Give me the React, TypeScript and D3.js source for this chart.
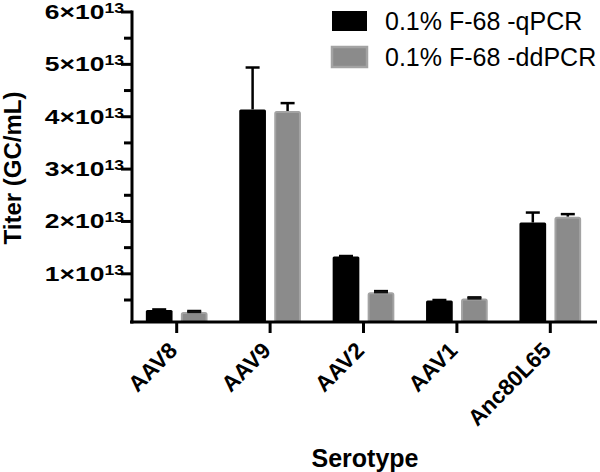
import React from "react";
import * as d3 from "d3";

const categories = ["AAV8", "AAV9", "AAV2", "AAV1", "Anc80L65"];
const seriesNames = ["0.1% F-68 -qPCR", "0.1% F-68 -ddPCR"];
const qpcrMean = [0.31, 4.14, 1.33, 0.49, 1.98];
const qpcrErr = [0.01, 0.8, 0.01, 0.01, 0.19];
const ddpcrMean = [0.27, 4.11, 0.65, 0.53, 2.09];
const ddpcrErr = [0.02, 0.15, 0.02, 0.02, 0.05];
const majorTicks = [1, 2, 3, 4, 5, 6];
const minorTicks = [0.5, 1.5, 2.5, 3.5, 4.5, 5.5];
const tickExponent = "13";

const W = 600;
const H = 472;
const FONT = "'Liberation Sans', Arial, Helvetica, sans-serif";

export default function App() {
  const y = d3.scaleLinear().domain([0.08, 6]).range([322, 12]);
  const x0 = d3.scaleBand<string>().domain(categories).range([130, 597]).paddingInner(0).paddingOuter(0);
  const x1 = d3
    .scaleBand<string>()
    .domain(seriesNames)
    .range([0, x0.bandwidth()])
    .paddingInner(0.237)
    .paddingOuter(0.453);
  const fills = ["#000000", "#8b8b8b"];
  const strokes = ["#000000", "#a3a3a3"];
  const means = [qpcrMean, ddpcrMean];
  const errs = [qpcrErr, ddpcrErr];
  const axisX = 132;
  const baseY = 322;

  return (
    <svg
      width={W}
      height={H}
      style={{ position: "absolute", left: 0, top: 0, background: "#fff" }}
      fontFamily={FONT}
    >
      <rect x={0} y={0} width={W} height={H} fill="#fff" />
      {/* bars */}
      {seriesNames.map((s, si) =>
        categories.map((c, ci) => {
          const bx = (x0(c) ?? 0) + (x1(s) ?? 0);
          const bw = x1.bandwidth();
          const top = y(means[si][ci]);
          const errTop = y(means[si][ci] + errs[si][ci]);
          const cx = bx + bw / 2;
          return (
            <g key={s + c}>
              <line x1={cx} x2={cx} y1={top} y2={errTop} stroke="#000" strokeWidth={2.5} />
              <line x1={cx - 7} x2={cx + 7} y1={errTop} y2={errTop} stroke="#000" strokeWidth={2.5} />
              <rect
                x={bx + (si === 1 ? 1 : 0)}
                y={top + (si === 1 ? 1 : 0)}
                width={bw - (si === 1 ? 2 : 0)}
                height={baseY - top - (si === 1 ? 1 : 0)}
                fill={fills[si]}
                stroke={strokes[si]}
                strokeWidth={si === 1 ? 2 : 0}
                rx={1.5}
              />
              {si === 1 && errs[si][ci] < 0.05 ? (
                <line x1={cx - 7} x2={cx + 7} y1={errTop + 1} y2={errTop + 1} stroke="#111" strokeWidth={2.5} />
              ) : null}
            </g>
          );
        })
      )}
      {/* y axis */}
      <line x1={axisX} x2={axisX} y1={y(6) - 1.5} y2={baseY + 1.5} stroke="#000" strokeWidth={3} />
      {majorTicks.map((t) => (
        <g key={"M" + t}>
          <line x1={axisX - 11} x2={axisX} y1={y(t)} y2={y(t)} stroke="#000" strokeWidth={3} />
          <text
            transform={`translate(124,${y(t) + 7}) scale(1.26,1)`}
            textAnchor="end"
            fontWeight="bold"
            fontSize={21}
            fill="#000"
          >
            <tspan>{t}×10</tspan>
            <tspan fontSize={14} dy={-6}>{tickExponent}</tspan>
          </text>
        </g>
      ))}
      {minorTicks.map((t) => (
        <line key={"m" + t} x1={axisX - 8} x2={axisX} y1={y(t)} y2={y(t)} stroke="#000" strokeWidth={3} />
      ))}
      {/* x axis */}
      <line x1={130} x2={597} y1={baseY} y2={baseY} stroke="#000" strokeWidth={3} />
      {categories.map((c) => {
        const cx = (x0(c) ?? 0) + x0.bandwidth() / 2;
        return (
          <g key={"x" + c}>
            <line x1={cx} x2={cx} y1={baseY} y2={baseY + 11} stroke="#000" strokeWidth={3} />
            <text
              transform={`translate(${cx + 2},${baseY + 30}) rotate(-45)`}
              textAnchor="end"
              fontWeight="bold"
              fontSize={22.5}
              fill="#000"
            >
              {c}
            </text>
          </g>
        );
      })}
      {/* axis titles */}
      <text
        transform={`translate(21,168) rotate(-90)`}
        textAnchor="middle"
        fontWeight="bold"
        fontSize={24}
        fill="#000"
      >
        Titer (GC/mL)
      </text>
      <text x={365} y={467} textAnchor="middle" fontWeight="bold" fontSize={25} fill="#000">
        Serotype
      </text>
      {/* legend */}
      {seriesNames.map((s, i) => (
        <g key={"lg" + s}>
          <rect
            x={332}
            y={11 + i * 36}
            width={35}
            height={20}
            fill={fills[i]}
            stroke={strokes[i]}
            strokeWidth={i === 1 ? 2.5 : 0}
          />
          <text x={385} y={21 + i * 36} dy="0.36em" fontSize={25} fill="#000">
            {s}
          </text>
        </g>
      ))}
    </svg>
  );
}
